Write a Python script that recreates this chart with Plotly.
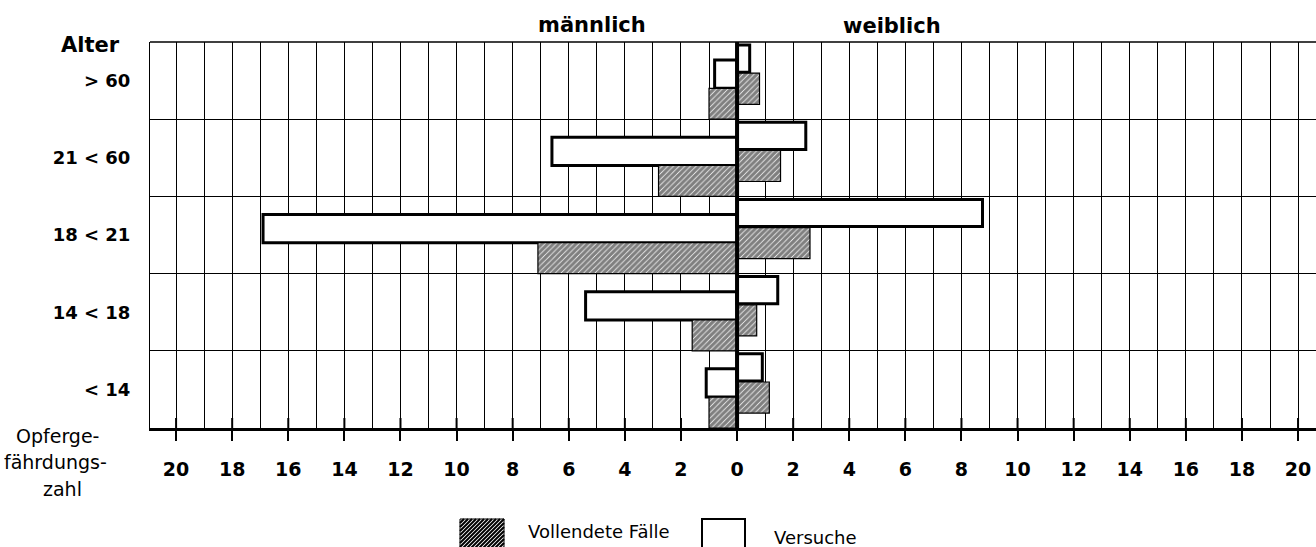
import plotly.graph_objects as go

# ---- data ----
age_groups = ["< 14", "14 < 18", "18 < 21", "21 < 60", "> 60"]
male_versuche = [1.1, 5.4, 16.9, 6.6, 0.8]
male_vollendet = [1.0, 1.6, 7.1, 2.8, 1.0]
female_versuche = [0.9, 1.45, 8.75, 2.45, 0.45]
female_vollendet = [1.15, 0.7, 2.6, 1.55, 0.8]
tick_values = list(range(-20, 21, 2))
tick_labels = [str(abs(v)) for v in tick_values]

W, H = 1316, 547
ML, MR, MT, MB = 150, 0, 42, 119
PW, PH = W - ML - MR, H - MT - MB
X_RANGE = [-20.93, 20.64]


def px(x):
    return (x - ML) / PW


def py(y):
    return (H - MB - y) / PH


FONT = "DejaVu Sans"
hatch = dict(shape="/", fgcolor="black", bgcolor="white", size=4, solidity=0.8)

fig = go.Figure()
fig.add_trace(go.Bar(y=age_groups, x=[-v for v in male_versuche], orientation="h",
                     offset=-0.1, width=0.366, marker=dict(color="white", line=dict(color="black", width=3)),
                     name="Versuche (männlich)", showlegend=False))
fig.add_trace(go.Bar(y=age_groups, x=[-v for v in male_vollendet], orientation="h",
                     offset=-0.5, width=0.4, marker=dict(color="white", pattern=hatch, line=dict(color="black", width=1.2)),
                     name="Vollendete Fälle (männlich)", showlegend=False))
fig.add_trace(go.Bar(y=age_groups, x=female_versuche, orientation="h",
                     offset=0.109, width=0.352, marker=dict(color="white", line=dict(color="black", width=3)),
                     name="Versuche (weiblich)", showlegend=False))
fig.add_trace(go.Bar(y=age_groups, x=female_vollendet, orientation="h",
                     offset=-0.307, width=0.403, marker=dict(color="white", pattern=hatch, line=dict(color="black", width=1.2)),
                     name="Vollendete Fälle (weiblich)", showlegend=False))

fig.update_layout(
    width=W, height=H, barmode="overlay",
    margin=dict(l=ML, r=MR, t=MT, b=MB, pad=0),
    paper_bgcolor="white", plot_bgcolor="white",
    font=dict(family=FONT, color="black"),
)
fig.update_layout(
    xaxis=dict(
        range=X_RANGE, tickmode="array", tickvals=tick_values, ticktext=tick_labels,
        showgrid=True, gridcolor="black", gridwidth=1,
        minor=dict(tickmode="linear", tick0=0, dtick=1, showgrid=True, gridcolor="black", gridwidth=1),
        zeroline=False, showline=True, linecolor="black", linewidth=3,
        ticks="outside", ticklen=10, tickwidth=2, tickcolor="black",
        tickfont=dict(family=FONT, size=19, color="black", weight="bold"),
        ticklabelstandoff=12,
    ),
    yaxis=dict(
        type="category", categoryorder="array", categoryarray=age_groups, range=[-0.5, 4.5],
        tickson="boundaries", showgrid=True, gridcolor="black", gridwidth=1,
        ticks="", showline=True, linecolor="black", linewidth=1, zeroline=False,
        tickfont=dict(family=FONT, size=18, color="black", weight="bold"),
        ticklabelstandoff=15,
    ),
)

shapes = [
    dict(type="line", xref="x", yref="paper", x0=0, x1=0, y0=0, y1=1,
         line=dict(color="black", width=4), layer="above"),
    dict(type="line", xref="paper", yref="paper", x0=0, x1=1, y0=1, y1=1,
         line=dict(color="black", width=1.5), layer="above"),
]
# short tick stubs above the axis line at each labelled value
for v in tick_values:
    shapes.append(dict(type="line", xref="x", yref="paper", x0=v, x1=v, y0=0, y1=10 / PH,
                       line=dict(color="black", width=2), layer="above"))
# legend swatch: hatched box
bx0, bx1, by0, by1 = 460, 504, 519, 549
shapes.append(dict(type="rect", xref="paper", yref="paper", x0=px(bx0), x1=px(bx1), y0=py(by1), y1=py(by0),
                   fillcolor="white", line=dict(color="black", width=1)))
segs = []
step = 4
hh = by1 - by0
for k in range(-hh, bx1 - bx0 + 1, step):
    xa, ya = bx0 + k, by1
    xb, yb = bx0 + k + hh, by0
    if xa < bx0:
        ya = by1 - (bx0 - xa); xa = bx0
    if xb > bx1:
        yb = by0 + (xb - bx1); xb = bx1
    if xa <= bx1 and xb >= bx0:
        segs.append(f"M{px(xa)},{py(ya)} L{px(xb)},{py(yb)}")
shapes.append(dict(type="path", xref="paper", yref="paper", path=" ".join(segs),
                   line=dict(color="black", width=2)))
# legend swatch: Versuche box (runs off the bottom edge)
vx0, vx1, vy0, vy1 = 702, 745, 519, 552
shapes.append(dict(type="path", xref="paper", yref="paper",
                   path=f"M{px(vx0)},{py(vy1)} L{px(vx0)},{py(vy0)} L{px(vx1)},{py(vy0)} L{px(vx1)},{py(vy1)}",
                   line=dict(color="black", width=2)))
fig.update_layout(shapes=shapes)

ann = []


def text(t, x, y, size, bold=False, xanchor="center"):
    ann.append(dict(text=t, x=px(x), y=py(y), xref="paper", yref="paper", showarrow=False,
                    xanchor=xanchor, yanchor="middle",
                    font=dict(family=FONT, size=size, color="black", weight="bold" if bold else "normal")))


text("Alter", 90, 45, 21, bold=True)
text("männlich", 592, 25, 21, bold=True)
text("weiblich", 892, 26, 21, bold=True)
text("Opferge-", 57, 436, 19)
text("fährdungs-", 55, 462, 19)
text("zahl", 62, 489, 19)
text("Vollendete Fälle", 526, 531, 18, xanchor="left")
text("Versuche", 772, 537, 18, xanchor="left")
fig.update_layout(annotations=ann)

fig.write_html("out.html", config={"displayModeBar": False},
               post_script="document.body.style.margin='0px';document.body.style.overflow='hidden';")
